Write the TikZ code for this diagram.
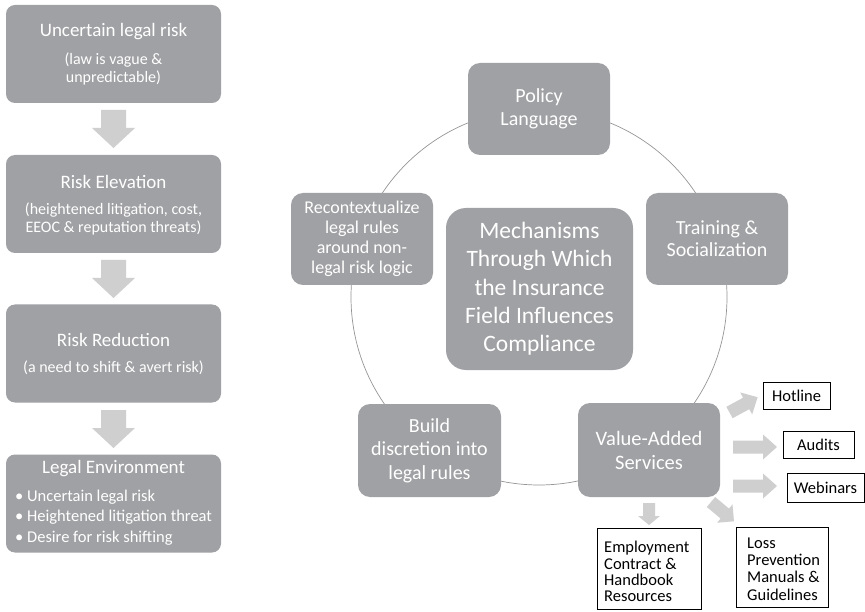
\documentclass[tikz,border=0pt]{standalone}
\usepackage{fontspec}
\setmainfont{Carlito}
\definecolor{boxgray}{RGB}{160,161,164}
\definecolor{arrgray}{RGB}{207,207,207}
\definecolor{ringgray}{RGB}{150,150,150}
\newcommand{\blkarrow}[7]{%
  \fill[arrgray,shift={(#1,#2)},rotate=#3] (0,#5) -- ({#4-#7},#5) -- ({#4-#7},#6) -- (#4,0) -- ({#4-#7},-#6) -- ({#4-#7},-#5) -- (0,-#5) -- cycle;}
\tikzset{
  gbox/.style={fill=boxgray, draw=none, text=white, align=center, inner sep=0pt},
  leftbox/.style={gbox, rounded corners=9pt, minimum width=215pt, minimum height=98pt},
  ringbox/.style={gbox, rounded corners=12pt, minimum width=142pt, minimum height=92pt},
  wbox/.style={draw=black, line width=0.6pt, fill=white, inner sep=0pt},
  wtext/.style={text=black, inner sep=0pt, align=left},
  gtext/.style={text=white, inner sep=0pt, align=center},
}
\begin{document}
\begin{tikzpicture}[x=1pt,y=-1pt]
\useasboundingbox (0,0) rectangle (865,612);
\fill[white] (0,0) rectangle (865,612);

% ---------- left column ----------
\node[leftbox] (lb1) at (113.5,54) {};
\node[leftbox] (lb2) at (113.5,204) {};
\node[leftbox] (lb3) at (113.5,353.5) {};
\node[leftbox] (lb4) at (113.5,503.5) {};

\node[gtext, font=\fontsize{19}{22}\selectfont] (t1) at (113.5,32) {Uncertain legal risk};
\node[gtext, font=\fontsize{16}{18}\selectfont] (s1) at (113.5,69) {(law is vague \&\\unpredictable)};
\node[gtext, font=\fontsize{19}{22}\selectfont] (t2) at (113.5,182) {Risk Elevation};
\node[gtext, font=\fontsize{16}{18}\selectfont] (s2) at (113.5,219) {(heightened litigation, cost,\\EEOC \& reputation threats)};
\node[gtext, font=\fontsize{19}{22}\selectfont] (t3) at (113.5,340) {Risk Reduction};
\node[gtext, font=\fontsize{16}{18}\selectfont] (s3) at (113.5,368) {(a need to shift \& avert risk)};
\node[gtext, font=\fontsize{19}{22}\selectfont] (t4) at (113.5,469) {Legal Environment};
\node[gtext, align=left, anchor=west, font=\fontsize{16.5}{20.5}\selectfont] (s4) at (15,517.5) {• Uncertain legal risk\\• Heightened litigation threat\\• Desire for risk shifting};

\blkarrow{113.5}{110}{-90}{38}{12.5}{21.5}{20}
\blkarrow{113.5}{260}{-90}{38}{12.5}{21.5}{20}
\blkarrow{113.5}{410}{-90}{38}{12.5}{21.5}{20}

% ---------- ring ----------
\draw[ringgray, line width=0.7pt] (539,297) circle[radius=188pt];

\node[ringbox, font=\fontsize{20}{23}\selectfont] (policy) at (539,109) {Policy\\Language};
\node[ringbox, font=\fontsize{20}{22}\selectfont] (training) at (717,239) {Training \&\\Socialization};
\node[ringbox, font=\fontsize{18}{20}\selectfont] (recon) at (362,239) {Recontextualize\\legal rules\\around non-\\legal risk logic};
\node[ringbox, font=\fontsize{20}{23.5}\selectfont, minimum width=143pt, minimum height=93pt] (build) at (429.5,450.5) {Build\\discretion into\\legal rules};
\node[ringbox, font=\fontsize{20.5}{24}\selectfont, minimum height=94pt] (value) at (649,450) {Value-Added\\Services};
\node[gbox, rounded corners=20pt, minimum width=187pt, minimum height=162pt, font=\fontsize{23.5}{28.3}\selectfont] (center) at (539.5,289) {Mechanisms\\Through Which\\the Insurance\\Field Influences\\Compliance};

% ---------- value-added outputs ----------
\node[wbox, minimum width=67pt, minimum height=27pt, font=\fontsize{16.5}{19}\selectfont] (hotline) at (796.5,396) {Hotline};
\node[wbox, minimum width=71pt, minimum height=27pt, font=\fontsize{16.5}{19}\selectfont] (audits) at (818.5,444.5) {Audits};
\node[wbox, minimum width=77pt, minimum height=29pt, font=\fontsize{16.5}{19}\selectfont] (webinars) at (825.5,487.5) {Webinars};
\node[wbox, minimum width=104pt, minimum height=81pt] (empbox) at (649,568.5) {};
\node[wtext, anchor=west, font=\fontsize{16.5}{16.3}\selectfont] (emptext) at (604,571.5) {Employment\\Contract \&\\Handbook\\Resources};
\node[wbox, minimum width=92pt, minimum height=80pt] (lossbox) at (782,567) {};
\node[wtext, anchor=west, font=\fontsize{16.5}{17.3}\selectfont] (losstext) at (747,569) {Loss\\Prevention\\Manuals \&\\Guidelines};

\blkarrow{729.5}{412.5}{28.5}{32}{6.5}{12.5}{13}
\blkarrow{733}{447}{0}{44}{6.5}{12.5}{14}
\blkarrow{733}{486}{0}{44}{6.5}{12.5}{14}
\blkarrow{649}{503}{-90}{22}{6}{11}{9}
\blkarrow{711}{502}{-40}{30}{6.5}{12}{12}
\end{tikzpicture}
\end{document}
